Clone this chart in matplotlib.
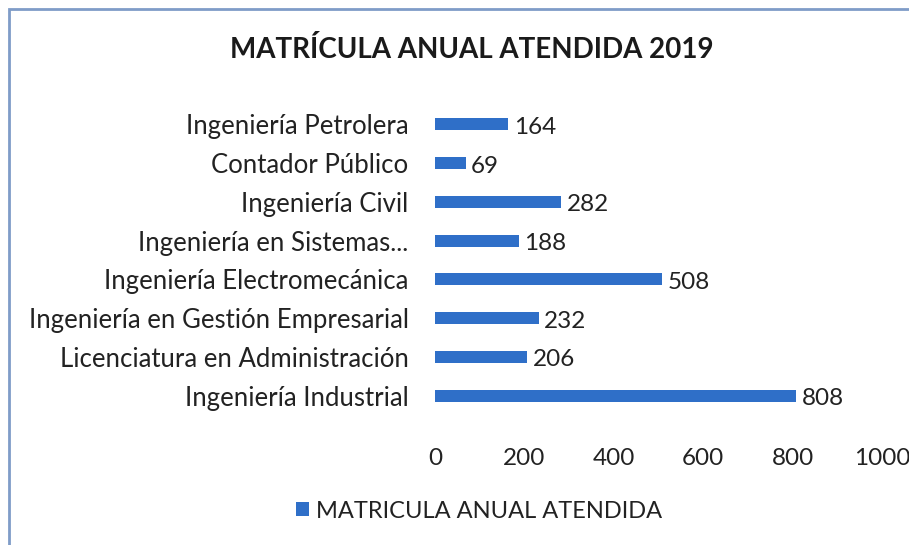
import matplotlib
matplotlib.use("Agg")
import matplotlib.pyplot as plt
from matplotlib.patches import Rectangle

categories = ["Ingeniería Petrolera", "Contador Público", "Ingeniería Civil",
              "Ingeniería en Sistemas...", "Ingeniería Electromecánica",
              "Ingeniería en Gestión Empresarial", "Licenciatura en Administración",
              "Ingeniería Industrial"]
values = [164, 69, 282, 188, 508, 232, 206, 808]
xticks = [0, 200, 400, 600, 800, 1000]
title = "MATRÍCULA ANUAL ATENDIDA 2019"
series_name = "MATRICULA ANUAL ATENDIDA"

plt.rcParams['font.family'] = ['Lato', 'DejaVu Sans']
W, H = 909, 545
fig = plt.figure(figsize=(W/100, H/100), dpi=100)
fig.patches.append(Rectangle((9/W, -0.1), 1.2, (H-9)/H + 0.1, transform=fig.transFigure,
                             fill=False, edgecolor='#7f9cc8', linewidth=2))

ax = fig.add_axes([435/W, 1-415/H, (882-435)/W, (415-105)/H])
color = '#2f6fc8'
ypos = list(range(len(categories)))
bars = ax.barh(ypos, values, height=0.31, color=color, label=series_name)
ax.set_ylim(len(categories)-0.5, -0.5)
ax.set_xlim(0, 1000)
ax.set_yticks(ypos)
ax.set_yticklabels(categories, fontsize=18.5, color='#222222')
ax.set_xticks(xticks)
ax.set_xticklabels([str(t) for t in xticks], fontsize=17.5, color='#222222')
ax.tick_params(axis='both', length=0)
ax.tick_params(axis='y', pad=19)
ax.tick_params(axis='x', pad=24)
for s in ax.spines.values():
    s.set_visible(False)
for b, v in zip(bars, values):
    ax.text(b.get_width() + 12, b.get_y() + b.get_height()/2 + 0.08, str(v),
            va='center', ha='left', fontsize=17.5, color='#222222')

fig.text(472/W, 1-50/H, title, ha='center', va='center', fontsize=20,
         fontweight='bold', color='#1a1a1a')
leg = fig.legend(handles=[bars], labels=[series_name], loc='center',
                 bbox_to_anchor=(479/W, 1-511/H), frameon=False, fontsize=17,
                 handlelength=0.55, handleheight=0.55, handletextpad=0.3)
for t in leg.get_texts():
    t.set_color('#222222')

fig.savefig("out.png", dpi=100)
